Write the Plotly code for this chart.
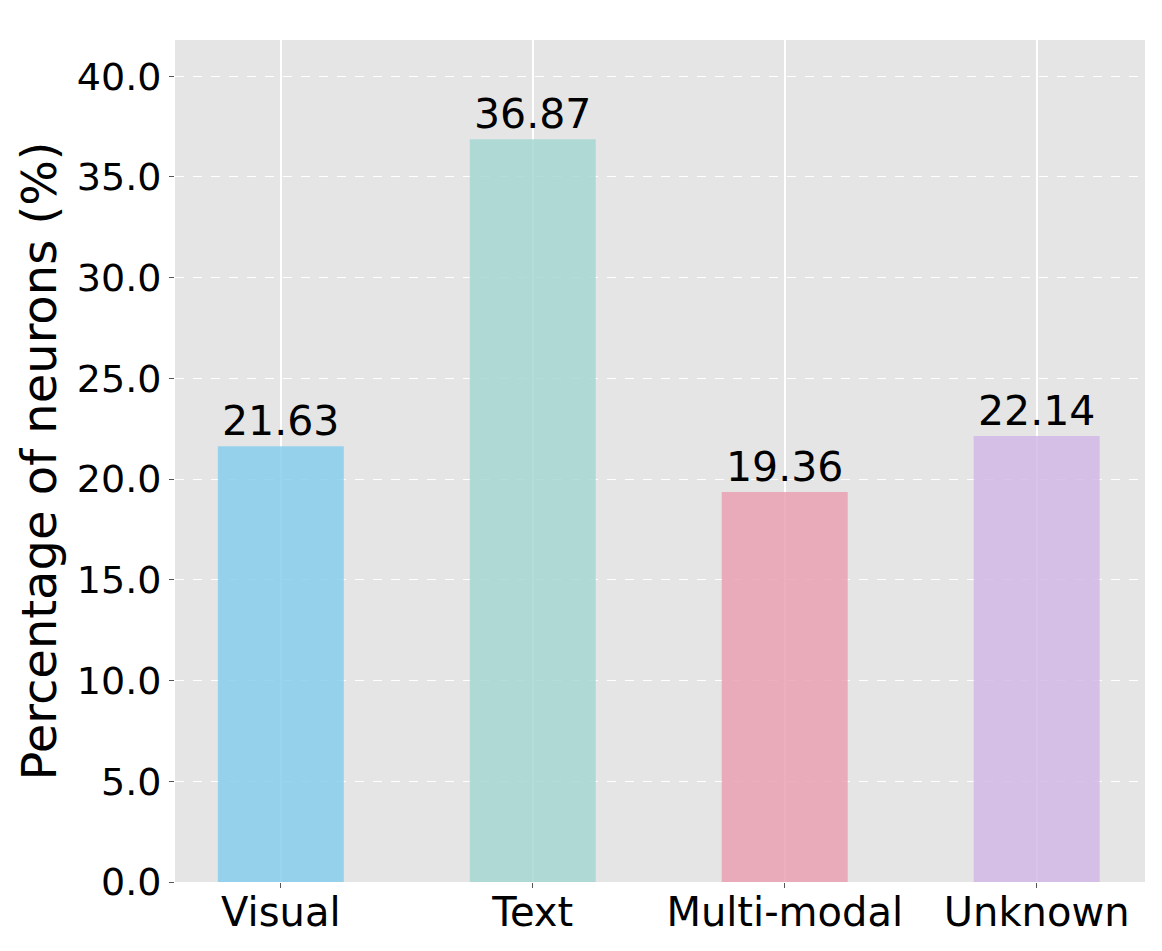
import plotly.graph_objects as go

# data
categories = ["Visual", "Text", "Multi-modal", "Unknown"]
percentages = [21.63, 36.87, 19.36, 22.14]
bar_colors = ["rgba(135,206,235,0.85)", "rgba(166,215,210,0.85)",
              "rgba(234,160,178,0.85)", "rgba(211,185,230,0.85)"]
y_ticks = [0, 5, 10, 15, 20, 25, 30, 35, 40]

font = "DejaVu Sans, Liberation Sans, sans-serif"

fig = go.Figure()
fig.add_trace(go.Bar(
    x=categories, y=percentages,
    width=0.5,
    marker=dict(color=bar_colors, line=dict(width=0)),
))

# value labels sitting right on top of each bar
for cat, val in zip(categories, percentages):
    fig.add_annotation(x=cat, y=val, text=f"{val:.2f}", showarrow=False,
                       yanchor="bottom", yshift=-1,
                       font=dict(size=41, color="black", family=font))

# page body adds an 8px offset, so the figure is a bit smaller than the window
fig.update_layout(
    width=1154, height=943,
    margin=dict(l=167, r=17, t=32, b=69),
    paper_bgcolor="white",
    plot_bgcolor="#e5e5e5",
    showlegend=False,
    font=dict(family=font, color="black"),
)
fig.update_xaxes(
    range=[-0.42, 3.43],
    automargin=False,
    showgrid=True, gridcolor="white", gridwidth=2,
    ticks="outside", ticklen=5, tickcolor="#555555",
    ticklabelstandoff=-10,
    tickfont=dict(size=40, family=font, color="black"),
    showline=False, zeroline=False,
)
fig.update_yaxes(
    range=[0, 41.8],
    automargin=False,
    tickvals=y_ticks, tickformat=".1f",
    showgrid=True, gridcolor="white", gridwidth=1, griddash="dash",
    ticks="outside", ticklen=5, tickcolor="#555555",
    tickfont=dict(size=38, family=font, color="black"),
    title=dict(text="Percentage of neurons (%)", font=dict(size=48, family=font, color="black"), standoff=4),
    showline=False, zeroline=False,
)

fig.write_html("out.html")
